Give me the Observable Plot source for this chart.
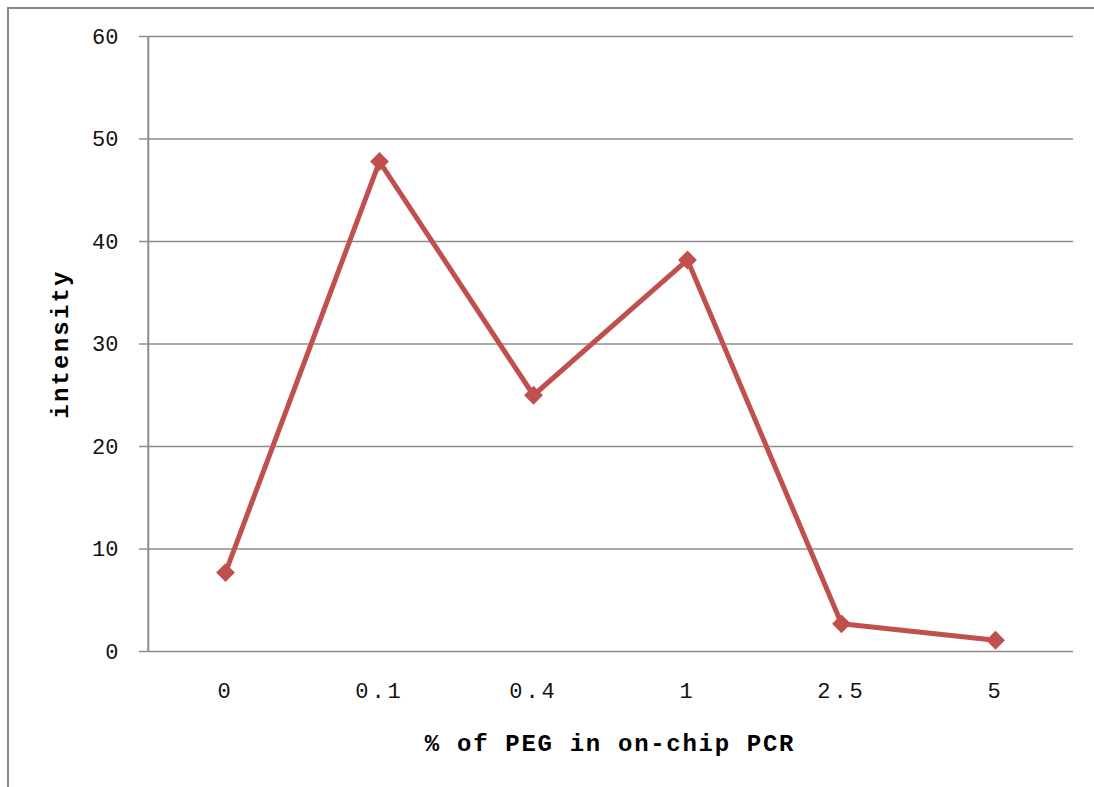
<!DOCTYPE html>
<html>
<head>
<meta charset="utf-8">
<script src="https://cdn.jsdelivr.net/npm/d3@7"></script>
<script src="https://cdn.jsdelivr.net/npm/@observablehq/plot@0.6"></script>
<style>
  html, body { margin: 0; padding: 0; background: #fff; overflow: hidden; }
  #wrap { position: relative; width: 1094px; height: 787px; overflow: hidden; }
  #border { position: absolute; left: 7px; top: 7px; width: 1200px; height: 900px;
            border-left: 2px solid #8a8a8a; border-top: 2px solid #8a8a8a; }
  #chart { position: absolute; left: 0; top: 0; }
  g[aria-label="x-axis tick label"] text { letter-spacing: 3px; }
</style>
</head>
<body>
<div id="wrap"><div id="border"></div><div id="chart"></div></div>
<script>
const categories = ["0", "0.1", "0.4", "1", "2.5", "5"];
const intensity = [7.7, 47.8, 25.0, 38.2, 2.7, 1.1];
const yTicks = [0, 10, 20, 30, 40, 50, 60];
const xTitle = "% of PEG in on-chip PCR";
const yTitle = "intensity";

const data = categories.map((c, i) => ({peg: c, value: intensity[i]}));
const red = "#C0504D";
const grid = "#8c8c8c";
const font = "'Courier New', 'Liberation Mono', monospace";

const W = 1094, ML = 146, MR = 21;
const step = (W - ML - MR) / categories.length;

const chart = Plot.plot({
  width: W,
  height: 787,
  marginLeft: ML,
  marginRight: MR,
  marginTop: 36,
  marginBottom: 136,
  style: {fontFamily: font, background: "transparent", color: "#111"},
  x: {type: "point", domain: categories, padding: 0.5, label: null},
  y: {domain: [0, 60], label: null},
  marks: [
    Plot.ruleY(yTicks, {stroke: grid, strokeWidth: 1.5}),
    Plot.axisY({ticks: yTicks, tickSize: 7, tickPadding: 21, stroke: grid, strokeWidth: 1.5, strokeOpacity: 1,
      fontSize: 22, label: null}),
    Plot.ruleX([categories[0]], {dx: -step / 2, y1: 0, y2: 60, stroke: grid, strokeWidth: 2}),
    Plot.axisX({tickSize: 0, tickPadding: 31, fontSize: 22, label: null}),
    Plot.line(data, {x: "peg", y: "value", stroke: red, strokeWidth: 5, strokeLinejoin: "miter"}),
    Plot.dot(data, {x: "peg", y: "value", symbol: "diamond2", r: 8.5, fill: red, stroke: "none"}),
    Plot.text([xTitle], {frameAnchor: "bottom", dy: 92, lineAnchor: "middle", textAnchor: "middle", fontSize: 24,
      fontWeight: "bold", fill: "#000"}),
    Plot.text([yTitle], {frameAnchor: "left", dx: -86, rotate: -90, lineAnchor: "middle", textAnchor: "middle", fontSize: 24,
      fontWeight: "bold", fill: "#000"})
  ]
});
d3.select(chart).selectAll("text")
  .filter(function() { return this.textContent === xTitle; })
  .style("letter-spacing", "1.7px");
d3.select(chart).selectAll("text")
  .filter(function() { return this.textContent === yTitle; })
  .style("letter-spacing", "2.2px");
document.getElementById("chart").appendChild(chart);
</script>
</body>
</html>
